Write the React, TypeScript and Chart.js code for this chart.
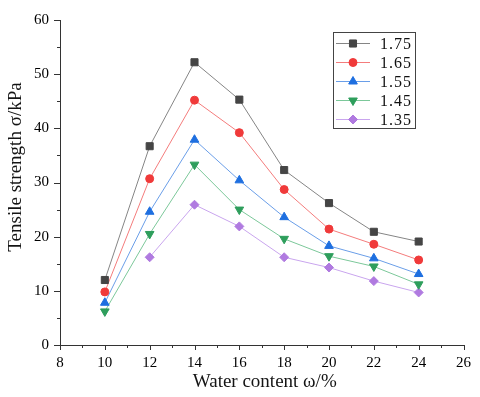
import React, { useEffect, useRef } from "react";
import { Chart, registerables } from "chart.js";

Chart.register(...registerables);

const waterContent = [10, 12, 14, 16, 18, 20, 22, 24];
const labels = ["1.75", "1.65", "1.55", "1.45", "1.35"];
const s175 = [12.0, 36.7, 52.2, 45.3, 32.3, 26.2, 20.9, 19.1];
const s165 = [9.8, 30.7, 45.2, 39.2, 28.7, 21.4, 18.6, 15.7];
const s155 = [7.8, 24.6, 37.9, 30.4, 23.6, 18.3, 16.0, 13.1];
const s145 = [6.2, 20.5, 33.3, 25.0, 19.6, 16.4, 14.5, 11.2];
const s135 = [null, 16.2, 25.9, 21.9, 16.2, 14.3, 11.8, 9.7];
const yTicks = [0, 10, 20, 30, 40, 50, 60];
const xTicks = [8, 10, 12, 14, 16, 18, 20, 22, 24, 26];
const xTitle = "Water content ω/%";
const yTitle = "Tensile strength σ/kPa";

const markerColors = ["#454545", "#f03a3a", "#1e6fe0", "#2e9e5c", "#b07ae0"];
const lineColors = ["#858585", "#f47c7c", "#6a9ee8", "#7cc89a", "#c9a5ee"];
const shapes = ["rect", "circle", "triangle", "triangle", "rectRot"];
const rotations = [0, 0, 0, 180, 0];
const radii = [5, 4, 5, 5, 4.5];

const SERIF = "'Liberation Serif', 'Times New Roman', serif";

function drawMarker(ctx: CanvasRenderingContext2D, shape: string, rot: number, r: number, x: number, y: number, color: string) {
  ctx.save();
  ctx.fillStyle = color;
  ctx.strokeStyle = color;
  ctx.lineWidth = 1;
  ctx.translate(x, y);
  ctx.rotate((rot * Math.PI) / 180);
  ctx.beginPath();
  if (shape === "rect") {
    const s = Math.SQRT1_2 * r;
    ctx.rect(-s, -s, 2 * s, 2 * s);
  } else if (shape === "circle") {
    ctx.arc(0, 0, r, 0, Math.PI * 2);
  } else if (shape === "triangle") {
    for (let i = 0; i < 3; i++) {
      const a = -Math.PI / 2 + (i * 2 * Math.PI) / 3;
      const px = Math.cos(a) * r;
      const py = Math.sin(a) * r;
      if (i === 0) ctx.moveTo(px, py);
      else ctx.lineTo(px, py);
    }
    ctx.closePath();
  } else if (shape === "rectRot") {
    ctx.moveTo(0, -r);
    ctx.lineTo(r, 0);
    ctx.lineTo(0, r);
    ctx.lineTo(-r, 0);
    ctx.closePath();
  }
  ctx.fill();
  ctx.stroke();
  ctx.restore();
}

const decorPlugin = {
  id: "decor",
  afterDraw(chart: any) {
    const ctx: CanvasRenderingContext2D = chart.ctx;
    const xs = chart.scales.x;
    const ys = chart.scales.y;
    const area = chart.chartArea;
    ctx.save();
    ctx.strokeStyle = "#333";
    ctx.lineWidth = 1;
    for (let v = 0; v <= 60; v += 5) {
      const py = Math.round(ys.getPixelForValue(v)) + 0.5;
      const len = v % 10 === 0 ? 6 : 3;
      ctx.beginPath();
      ctx.moveTo(area.left, py);
      ctx.lineTo(area.left - len, py);
      ctx.stroke();
    }
    for (let v = 8; v <= 26; v += 1) {
      const px = Math.round(xs.getPixelForValue(v)) + 0.5;
      const len = v % 2 === 0 ? 5 : 3;
      ctx.beginPath();
      ctx.moveTo(px, area.bottom);
      ctx.lineTo(px, area.bottom + len);
      ctx.stroke();
    }
    ctx.fillStyle = "#141414";
    ctx.font = `19px ${SERIF}`;
    ctx.textAlign = "center";
    ctx.textBaseline = "middle";
    ctx.fillText(xTitle, (area.left + area.right) / 2 + 3, 382);
    ctx.save();
    ctx.translate(16, 167);
    ctx.rotate(-Math.PI / 2);
    ctx.fillText(yTitle, 0, 0);
    ctx.restore();
    const bx = 333.5, by = 32.5, bw = 82, bh = 96;
    ctx.strokeStyle = "#444";
    ctx.strokeRect(bx, by, bw, bh);
    ctx.font = `16px ${SERIF}`;
    ctx.textAlign = "left";
    try {
      (ctx as any).letterSpacing = "1px";
    } catch (e) {}
    chart.data.datasets.forEach((ds: any, i: number) => {
      const ry = 43.5 + i * 19;
      ctx.strokeStyle = lineColors[i];
      ctx.lineWidth = 1;
      ctx.beginPath();
      ctx.moveTo(336, ry);
      ctx.lineTo(370, ry);
      ctx.stroke();
      drawMarker(ctx, shapes[i], rotations[i], radii[i], 353, ry, markerColors[i]);
      ctx.fillStyle = "#111";
      ctx.fillText(ds.label, 380, ry + 1);
    });
    ctx.restore();
  },
};

export default function App() {
  const ref = useRef<HTMLCanvasElement>(null);
  useEffect(() => {
    if (!ref.current) return;
    const series = [s175, s165, s155, s145, s135];
    const datasets = series.map((vals, i) => ({
      label: labels[i],
      data: waterContent
        .map((x, j) => ({ x, y: vals[j] }))
        .filter((p) => p.y !== null),
      borderColor: lineColors[i],
      backgroundColor: markerColors[i],
      pointBackgroundColor: markerColors[i],
      pointBorderColor: markerColors[i],
      pointBorderWidth: 1,
      pointStyle: shapes[i] as any,
      pointRotation: rotations[i],
      pointRadius: radii[i],
      borderWidth: 1,
      tension: 0,
      fill: false,
    }));
    const chart = new Chart(ref.current, {
      type: "line",
      data: { datasets },
      options: {
        animation: false,
        responsive: false,
        layout: { padding: { top: 16, right: 13, left: 0, bottom: 0 } },
        plugins: { legend: { display: false }, tooltip: { enabled: false } },
        scales: {
          x: {
            type: "linear",
            min: 8,
            max: 26,
            afterBuildTicks: (s: any) => {
              s.ticks = xTicks.map((v) => ({ value: v }));
            },
            afterFit: (s: any) => {
              s.height = 52;
            },
            grid: { display: false, drawTicks: false },
            border: { display: true, color: "#333", width: 1 },
            ticks: {
              padding: 9,
              color: "#000",
              font: { family: SERIF, size: 15 },
              maxRotation: 0,
              autoSkip: false,
            },
          },
          y: {
            type: "linear",
            min: 0,
            max: 60,
            afterBuildTicks: (s: any) => {
              s.ticks = yTicks.map((v) => ({ value: v }));
            },
            afterFit: (s: any) => {
              s.width = 60;
            },
            grid: { display: false, drawTicks: false },
            border: { display: true, color: "#333", width: 1 },
            ticks: {
              padding: 11,
              color: "#000",
              font: { family: SERIF, size: 15 },
            },
          },
        },
      },
      plugins: [decorPlugin],
    });
    return () => chart.destroy();
  }, []);
  return (
    <div style={{ position: "fixed", left: 0, top: 0, width: 480, height: 397, background: "#fff" }}>
      <canvas ref={ref} width={480} height={397} style={{ display: "block" }} />
    </div>
  );
}
